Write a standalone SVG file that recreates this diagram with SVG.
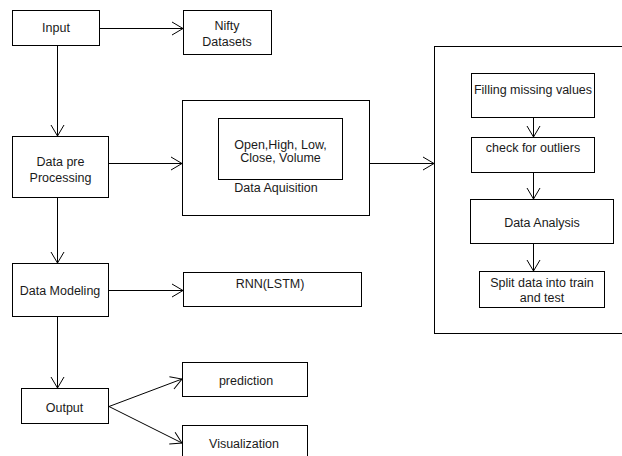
<svg xmlns="http://www.w3.org/2000/svg" width="622" height="456" viewBox="0 0 622 456">
<style>
rect{fill:#fff;stroke:#000;stroke-width:1}
text{font-family:"Liberation Sans",Arial,sans-serif;font-size:12.5px;fill:#1a1a1a;text-anchor:middle}
.c line{stroke:#000;stroke-width:1;marker-end:url(#ah)}
</style>
<defs>
<marker id="ah" markerUnits="userSpaceOnUse" markerWidth="14" markerHeight="16" refX="11" refY="7" orient="auto" overflow="visible">
<path d="M0,0.5 L11,7 L0,13.5" fill="none" stroke="#000" stroke-width="1"/>
</marker>
</defs>
<rect x="0" y="0" width="622" height="456" style="fill:#fff;stroke:none"/>
<g id="input"><rect x="12.5" y="10.5" width="87" height="35"/><text x="56" y="32">Input</text></g>
<g id="nifty"><rect x="183.5" y="10.5" width="88" height="44"/><text x="227" y="30">Nifty</text><text x="227" y="46">Datasets</text></g>
<g id="datapre"><rect x="12.5" y="136.5" width="96" height="61"/><text x="60.5" y="166">Data pre</text><text x="60.5" y="182">Processing</text></g>
<g id="acq"><rect x="182.5" y="100.5" width="187" height="115"/><rect x="218.5" y="118.5" width="124" height="61"/><text x="280.5" y="148.5">Open,High, Low,</text><text x="280.5" y="161.5">Close, Volume</text><text x="276" y="191.5">Data Aquisition</text></g>
<g id="steps"><rect x="434.5" y="46.5" width="200" height="287"/></g>
<g id="filling"><rect x="471.5" y="73.5" width="123" height="44"/><text x="533" y="93.5">Filling missing values</text></g>
<g id="outliers"><rect x="471.5" y="137.5" width="123" height="35"/><text x="533" y="151.5">check for outliers</text></g>
<g id="analysis"><rect x="470.5" y="199.5" width="143" height="44"/><text x="542" y="226.5">Data Analysis</text></g>
<g id="split"><rect x="479.5" y="271.5" width="125" height="36"/><text x="542" y="286.5">Split data into train</text><text x="542" y="301.5">and test</text></g>
<g id="modeling"><rect x="12.5" y="263.5" width="96" height="53"/><text x="60" y="294.5">Data Modeling</text></g>
<g id="rnn"><rect x="183.5" y="272.5" width="178" height="34"/><text x="270" y="287.5">RNN(LSTM)</text></g>
<g id="output"><rect x="21.5" y="388.5" width="87" height="35"/><text x="64.5" y="411.5">Output</text></g>
<g id="prediction"><rect x="182.5" y="362.5" width="125" height="34"/><text x="246" y="384.5">prediction</text></g>
<g id="visualization"><rect x="182.5" y="425.5" width="125" height="40"/><text x="244" y="447.5">Visualization</text></g>
<g class="c" id="connectors">
<line x1="100" y1="28.5" x2="183" y2="28.5"/>
<line x1="57.5" y1="45" x2="57.5" y2="136"/>
<line x1="109" y1="163.5" x2="182" y2="163.5"/>
<line x1="370" y1="163.5" x2="434" y2="163.5"/>
<line x1="533.5" y1="117" x2="533.5" y2="137"/>
<line x1="533.5" y1="172" x2="533.5" y2="199"/>
<line x1="533.5" y1="243" x2="533.5" y2="271"/>
<line x1="57.5" y1="198" x2="57.5" y2="263"/>
<line x1="109" y1="290.5" x2="183" y2="290.5"/>
<line x1="57.5" y1="316" x2="57.5" y2="388"/>
<line x1="109" y1="406.5" x2="182" y2="379"/>
<line x1="109" y1="406.5" x2="182" y2="443"/>
</g>
</svg>
